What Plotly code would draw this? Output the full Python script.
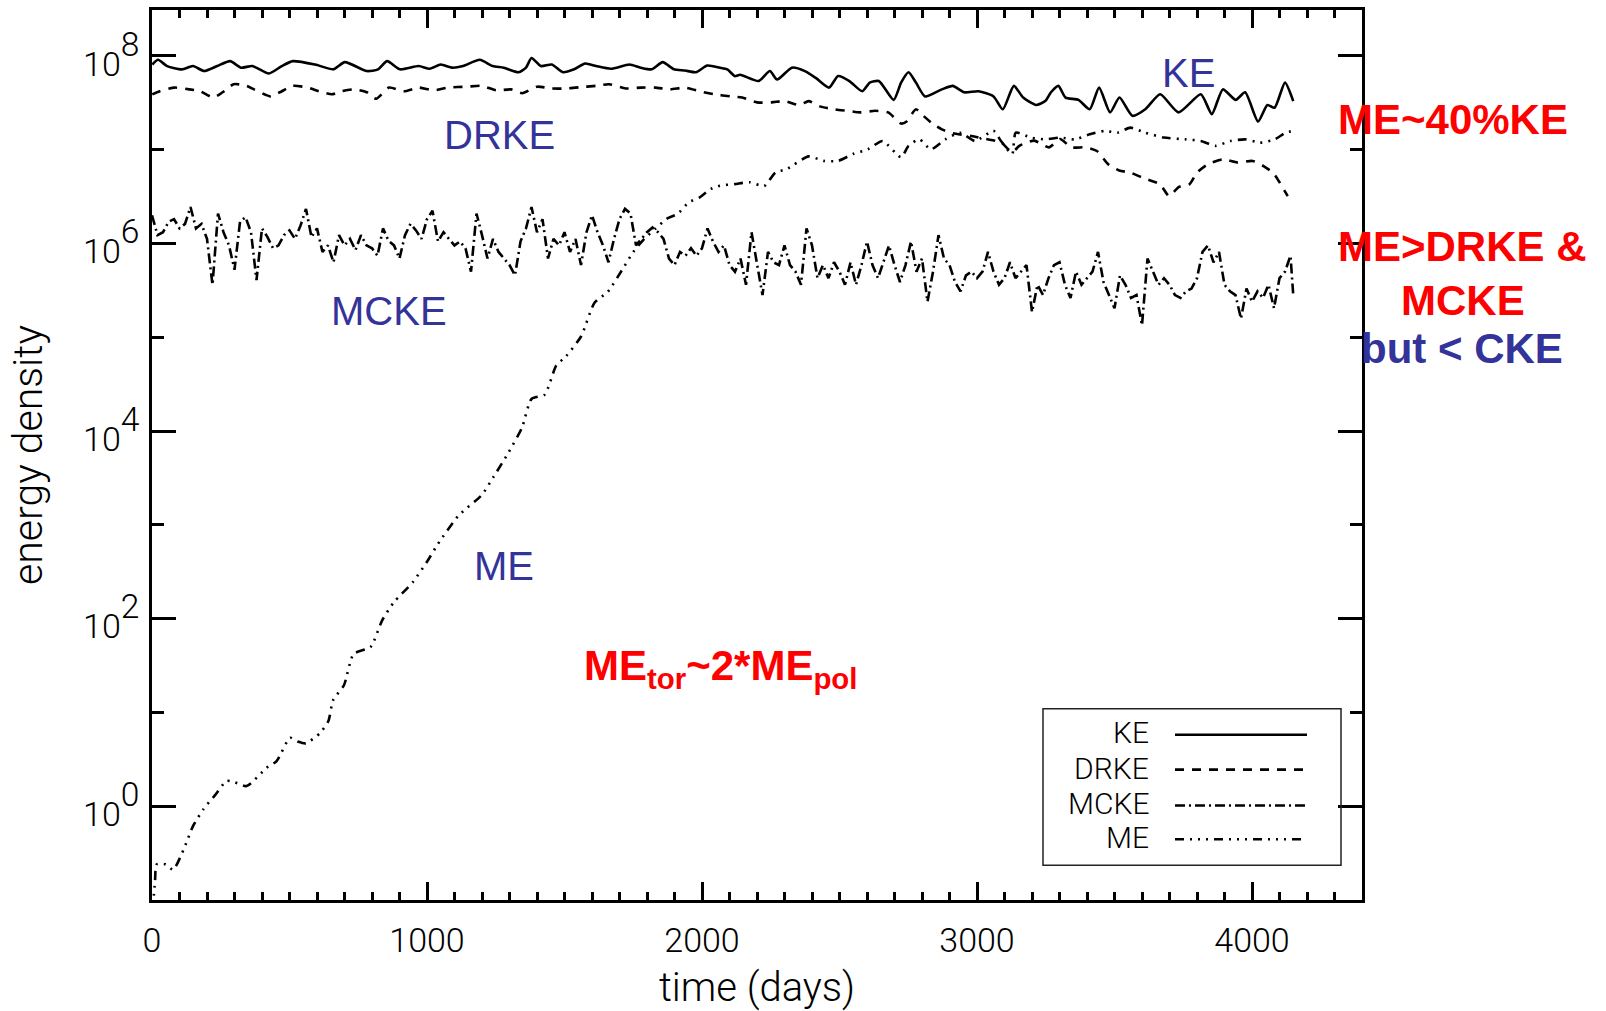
import plotly.graph_objects as go

# ---------------- data ----------------
ke_t = [1, 22, 55, 109, 149, 190, 237, 284, 324, 365, 425, 472, 512, 593, 660, 701, 781, 822, 855, 902,
        970, 1010, 1050, 1091, 1131, 1192, 1239, 1279, 1333, 1360, 1380, 1414, 1454, 1494, 1535, 1575, 1615,
        1669, 1736, 1777, 1817, 1857, 1898, 1938, 1978, 2019, 2065, 2092, 2119, 2139, 2206, 2247, 2273, 2327,
        2374, 2415, 2462, 2495, 2536, 2583, 2610, 2643, 2697, 2724, 2751, 2778, 2811, 2872, 2912, 2953, 3006,
        3060, 3094, 3134, 3168, 3215, 3248, 3269, 3296, 3322, 3369, 3410, 3444, 3484, 3518, 3565, 3612, 3666,
        3733, 3814, 3854, 3894, 3941, 3975, 4022, 4056, 4082, 4120, 4150]
ke_v = [8.1e7, 9.1e7, 7.8e7, 7.2e7, 7.8e7, 6.9e7, 7.8e7, 8.8e7, 7.5e7, 7.8e7, 6.5e7, 7.8e7, 8.8e7, 8.1e7,
        7.2e7, 8.6e7, 6.9e7, 7.2e7, 8.8e7, 7.2e7, 7.8e7, 7.3e7, 8.1e7, 7.5e7, 7.8e7, 9.1e7, 7.8e7, 7.5e7,
        6.7e7, 7.5e7, 9.5e7, 7.8e7, 8.1e7, 6.7e7, 7.2e7, 8.3e7, 7.8e7, 7.3e7, 8.1e7, 7.5e7, 7.2e7, 8.6e7,
        7.2e7, 7.0e7, 6.7e7, 7.9e7, 7.5e7, 7.2e7, 6.1e7, 6.3e7, 5.4e7, 6.9e7, 5.6e7, 7.5e7, 6.9e7, 5.8e7,
        4.6e7, 6.1e7, 5.4e7, 4.2e7, 5.2e7, 5.4e7, 3.4e7, 5.2e7, 6.7e7, 5.2e7, 3.7e7, 4.4e7, 4.8e7, 4.1e7,
        4.2e7, 3.7e7, 2.7e7, 4.8e7, 3.6e7, 3.0e7, 3.3e7, 4.1e7, 4.8e7, 3.6e7, 3.4e7, 2.7e7, 4.6e7, 2.5e7,
        3.6e7, 2.3e7, 2.7e7, 3.9e7, 2.5e7, 3.9e7, 2.4e7, 4.4e7, 3.4e7, 4.1e7, 2.0e7, 3.0e7, 2.8e7, 5.2e7,
        3.3e7]

drke_t = [1, 28, 82, 136, 176, 223, 257, 297, 344, 371, 432, 465, 512, 566, 607, 654, 687, 734, 781, 815,
          862, 916, 970, 1023, 1077, 1145, 1198, 1252, 1306, 1346, 1400, 1454, 1508, 1575, 1615, 1662, 1723,
          1777, 1830, 1884, 1938, 1992, 2046, 2105, 2146, 2200, 2253, 2300, 2354, 2388, 2428, 2482, 2529,
          2576, 2630, 2677, 2724, 2744, 2778, 2805, 2838, 2872, 2912, 2980, 3033, 3087, 3128, 3154, 3208,
          3262, 3302, 3343, 3396, 3436, 3477, 3517, 3558, 3612, 3665, 3699, 3733, 3773, 3800, 3840, 3894,
          3948, 4002, 4042, 4076, 4096, 4130]
drke_v = [3.9e7, 4.2e7, 4.6e7, 4.4e7, 4.2e7, 3.6e7, 4.1e7, 5.0e7, 4.8e7, 4.4e7, 3.7e7, 4.1e7, 4.8e7, 4.6e7,
          4.2e7, 3.9e7, 4.2e7, 4.4e7, 4.1e7, 3.5e7, 4.6e7, 4.2e7, 4.6e7, 4.3e7, 4.6e7, 4.7e7, 4.8e7, 4.3e7,
          4.4e7, 4.0e7, 4.7e7, 4.5e7, 4.5e7, 4.7e7, 4.8e7, 5.0e7, 4.5e7, 4.6e7, 4.6e7, 4.4e7, 4.6e7, 4.2e7,
          3.9e7, 3.7e7, 3.6e7, 3.2e7, 3.2e7, 3.3e7, 3.0e7, 3.3e7, 2.9e7, 2.7e7, 2.6e7, 2.5e7, 2.6e7, 2.5e7,
          1.9e7, 2.0e7, 2.7e7, 2.3e7, 1.9e7, 1.65e7, 1.5e7, 1.4e7, 1.3e7, 1.2e7, 9.4e6, 1.1e7, 1.25e7,
          1.06e7, 1.3e7, 1.06e7, 1.06e7, 9.7e6, 7.0e6, 6.0e6, 5.7e6, 4.9e6, 4.3e6, 3.2e6, 4.0e6, 4.3e6,
          5.7e6, 7.0e6, 7.9e6, 7.3e6, 7.6e6, 6.7e6, 5.7e6, 4.7e6, 3.2e6]

mcke_t = list(range(0, 4141, 20)) + [4150]
mcke_v = [2.0e6, 1.23e6, 1.32e6, 1.70e6, 1.82e6, 1.45e6, 1.62e6, 2.45e6, 1.45e6, 1.62e6,
          1.12e6, 3.63e5, 2.09e6, 1.32e6, 9.55e5, 5.25e5, 1.70e6, 1.91e6, 1.32e6, 4.07e5,
          1.45e6, 1.17e6, 8.91e5, 9.55e5, 1.23e6, 1.38e6, 1.12e6, 1.55e6, 2.34e6, 1.17e6,
          1.45e6, 8.13e5, 9.55e5, 6.31e5, 1.23e6, 9.55e5, 1.12e6, 8.51e5, 1.23e6, 9.55e5,
          8.91e5, 7.41e5, 1.45e6, 1.07e6, 9.55e5, 6.92e5, 1.23e6, 1.62e6, 1.38e6, 1.12e6,
          1.82e6, 2.24e6, 1.05e6, 1.32e6, 1.12e6, 9.55e5, 1.05e6, 8.91e5, 5.01e5, 2.09e6,
          1.23e6, 6.92e5, 1.12e6, 8.13e5, 6.92e5, 5.89e5, 4.57e5, 1.05e6, 1.45e6, 2.45e6,
          1.32e6, 1.82e6, 6.92e5, 1.12e6, 9.55e5, 1.32e6, 8.13e5, 1.12e6, 5.89e5, 1.32e6,
          2.00e6, 1.32e6, 9.55e5, 6.31e5, 1.12e6, 1.82e6, 2.34e6, 2.09e6, 9.55e5, 1.12e6,
          1.32e6, 1.48e6, 1.32e6, 1.12e6, 6.92e5, 5.89e5, 8.13e5, 7.41e5, 8.91e5, 7.41e5,
          8.91e5, 1.45e6, 1.05e6, 8.13e5, 9.55e5, 5.89e5, 5.01e5, 6.92e5, 3.63e5, 1.32e6,
          6.31e5, 2.82e5, 8.13e5, 6.31e5, 5.89e5, 9.55e5, 5.89e5, 5.01e5, 3.63e5, 1.45e6,
          9.55e5, 4.27e5, 5.89e5, 4.27e5, 6.31e5, 5.01e5, 3.63e5, 6.31e5, 3.63e5, 5.89e5,
          1.05e6, 5.89e5, 4.27e5, 6.31e5, 9.55e5, 5.89e5, 3.89e5, 5.89e5, 1.05e6, 5.01e5,
          6.92e5, 2.40e5, 5.01e5, 1.23e6, 6.92e5, 5.89e5, 3.89e5, 3.09e5, 4.57e5, 5.01e5,
          4.27e5, 5.01e5, 8.13e5, 5.01e5, 3.63e5, 4.27e5, 6.31e5, 4.27e5, 5.01e5, 5.89e5,
          1.86e5, 3.63e5, 2.82e5, 4.27e5, 5.89e5, 6.31e5, 3.63e5, 2.63e5, 5.01e5, 3.63e5,
          4.27e5, 5.01e5, 8.13e5, 3.89e5, 2.82e5, 2.04e5, 4.57e5, 3.63e5, 2.63e5, 2.82e5,
          1.35e5, 6.92e5, 5.01e5, 3.63e5, 4.27e5, 3.63e5, 2.82e5, 2.63e5, 3.09e5, 3.31e5,
          4.27e5, 8.13e5, 9.55e5, 6.31e5, 8.13e5, 3.63e5, 3.09e5, 2.82e5, 1.58e5, 3.31e5,
          2.40e5, 3.09e5, 2.63e5, 3.63e5, 2.04e5, 4.27e5, 5.01e5, 7.41e5, 2.82e5]

me_t = [0, 11, 17, 50, 77, 114, 150, 187, 230, 271, 296, 344, 417, 453, 502, 530, 559, 611, 641, 659,
        698, 733, 795, 837, 879, 948, 1004, 1039, 1115, 1199, 1241, 1296, 1345, 1380, 1428, 1470, 1505,
        1560, 1609, 1658, 1709, 1750, 1790, 1831, 1871, 1911, 1952, 1992, 2032, 2065, 2119, 2173, 2226,
        2267, 2307, 2388, 2442, 2495, 2549, 2603, 2657, 2724, 2751, 2791, 2832, 2885, 2939, 2993, 3060,
        3087, 3128, 3141, 3195, 3249, 3302, 3356, 3410, 3464, 3511, 3558, 3612, 3679, 3760, 3814, 3868,
        3921, 3975, 4029, 4082, 4123, 4150]
me_v = [0.063, 0.16, 0.24, 0.24, 0.21, 0.34, 0.62, 0.93, 1.32, 1.86, 1.82, 1.64, 2.57, 3.02, 5.37, 4.90,
        4.68, 6.03, 8.04, 13.6, 19.5, 42, 50, 96, 149, 244, 422, 621, 1260, 2080, 3220, 5890, 1.08e4,
        2.20e4, 2.45e4, 5.0e4, 6.25e4, 1.02e5, 2.33e5, 3.07e5, 5.2e5, 8.1e5, 1.12e6, 1.44e6, 1.83e6,
        2.07e6, 2.75e6, 3.11e6, 3.82e6, 4.14e6, 4.3e6, 4.5e6, 4.1e6, 5.7e6, 6.2e6, 8.5e6, 7.6e6, 7.6e6,
        9.0e6, 1.01e7, 1.24e7, 8.3e6, 1.10e7, 1.29e7, 1.01e7, 1.29e7, 1.52e7, 1.24e7, 1.59e7, 1.24e7,
        9.0e6, 1.52e7, 1.35e7, 1.29e7, 1.35e7, 1.29e7, 1.46e7, 1.59e7, 1.52e7, 1.72e7, 1.52e7, 1.35e7,
        1.29e7, 1.24e7, 1.10e7, 1.24e7, 1.29e7, 1.19e7, 1.29e7, 1.52e7, 1.59e7]

series_names = ["KE", "DRKE", "MCKE", "ME"]
y_tick_vals = [1, 1e2, 1e4, 1e6, 1e8]
y_tick_exps = ["0", "2", "4", "6", "8"]
y_minor_vals = [0.1, 10, 1e3, 1e5, 1e7]

# ---------------- style ----------------
W, H = 1606, 1011
PL, PR, PT, PB = 152, 1362, 7, 901
LABEL_FONT = "Roboto"
TEXT_FONT = "Liberation Sans"
BLUE = "#333399"
RED = "#ff0000"
dashes = {
    "KE": "solid",
    "DRKE": "9px,8px",
    "MCKE": "10px,4px,2px,4px",
    "ME": "9px,6px,2px,6px,2px,6px,2px,6px",
}


def fx(px):
    return (px - PL) / (PR - PL)


def fy(py):
    return (PB - py) / (PB - PT)


fig = go.Figure()
for name, t, v, shape in [("KE", ke_t, ke_v, "spline"), ("DRKE", drke_t, drke_v, "spline"),
                          ("MCKE", mcke_t, mcke_v, "linear"), ("ME", me_t, me_v, "spline")]:
    fig.add_trace(go.Scatter(x=t, y=v, mode="lines", name=name,
                             line=dict(color="black", width=2.6, dash=dashes[name], shape=shape,
                                       smoothing=0.6)))

fig.update_layout(
    width=W, height=H,
    margin=dict(l=PL, r=W - PR, t=PT, b=H - PB, pad=0),
    plot_bgcolor="white", paper_bgcolor="white",
    showlegend=False,
    font=dict(family=LABEL_FONT, size=34, color="black", weight=300),
)

fig.update_xaxes(
    range=[0, 4400], tickmode="linear", tick0=0, dtick=1000,
    ticks="inside", ticklen=18, tickwidth=2.5, tickcolor="black",
    showline=True, linewidth=3, linecolor="black", mirror="ticks",
    showgrid=False, zeroline=False,
    tickfont=dict(family=LABEL_FONT, size=34, color="black", weight=300),
    ticklabelstandoff=8,
    minor=dict(tickmode="linear", tick0=0, dtick=100, ticks="inside", ticklen=8, tickwidth=2.5,
               tickcolor="black", showgrid=False),
    title=dict(text="time (days)", font=dict(family=LABEL_FONT, size=40, weight=300), standoff=16),
)

# exponent drawn at full label size: base font 48 -> <sup> at 70% ~ 34 px, base "10" forced to 34 px
fig.update_yaxes(
    type="log", range=[-1, 8.49],
    tickmode="array", tickvals=y_tick_vals,
    ticktext=["<span style='font-size:34px'>10</span><sup>%s</sup>" % e for e in y_tick_exps],
    ticks="inside", ticklen=24, tickwidth=2.5, tickcolor="black",
    showline=True, linewidth=3, linecolor="black", mirror="ticks",
    showgrid=False, zeroline=False,
    tickfont=dict(family=LABEL_FONT, size=48, color="black", weight=300),
    ticklabelshift=3,
    minor=dict(tickmode="array", tickvals=y_minor_vals, ticks="inside", ticklen=12, tickwidth=2.5,
               tickcolor="black", showgrid=False),
    title=dict(text="energy density", font=dict(family=LABEL_FONT, size=41, weight=300), standoff=28),
)

annotations = []


def add_text(text, px, py, size, color, bold=False, family=TEXT_FONT, xanchor="center"):
    annotations.append(dict(
        text=text, x=fx(px), y=fy(py), xref="paper", yref="paper", showarrow=False,
        xanchor=xanchor, yanchor="middle", borderpad=0,
        font=dict(family=family, size=size, color=color, weight=700 if bold else 400),
    ))


# blue curve labels
add_text("KE", 1188, 70, 40, BLUE)
add_text("DRKE", 499, 133, 40, BLUE)
add_text("MCKE", 389, 309, 40, BLUE)
add_text("ME", 504, 565, 40, BLUE)

# red / blue remarks
add_text("ME~40%KE", 1453, 117, 42, RED, bold=True)
add_text("ME&gt;DRKE &amp;", 1462, 245, 42, RED, bold=True)
add_text("MCKE", 1463, 299, 42, RED, bold=True)
add_text("but &lt; CKE", 1462, 347, 42, BLUE, bold=True)
add_text("ME<sub>tor</sub>~2*ME<sub>pol</sub>", 721, 668, 42, RED, bold=True)

# legend (text on the left, line sample on the right)
legend_rows_y = [733, 769, 804, 838]
legend_line_y = [735, 770, 806, 840]
shapes = [dict(type="rect", xref="paper", yref="paper", x0=fx(1043), x1=fx(1341), y0=fy(866), y1=fy(709),
               line=dict(color="#222222", width=1.5), fillcolor="rgba(0,0,0,0)", layer="above")]
for name, ty, ly in zip(series_names, legend_rows_y, legend_line_y):
    annotations.append(dict(
        text=name, x=fx(1150), y=fy(ty), xref="paper", yref="paper", showarrow=False,
        xanchor="right", yanchor="middle", borderpad=0,
        font=dict(family=LABEL_FONT, size=30, color="black", weight=300),
    ))
    shapes.append(dict(type="line", xref="paper", yref="paper", x0=fx(1175), x1=fx(1307), y0=fy(ly), y1=fy(ly),
                       line=dict(color="black", width=2.6, dash=dashes[name])))

fig.update_layout(annotations=annotations, shapes=shapes)

fig.write_html("out.html")
